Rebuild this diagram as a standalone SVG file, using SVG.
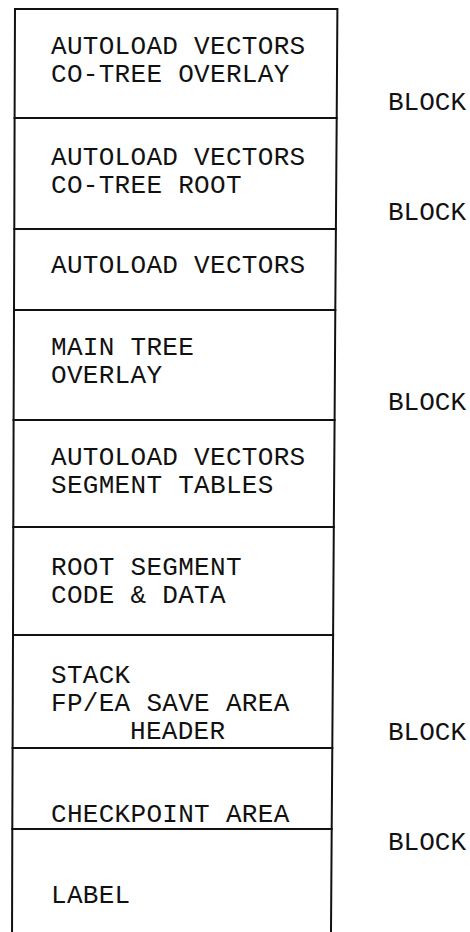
<svg xmlns="http://www.w3.org/2000/svg" width="470" height="932" viewBox="0 0 470 932">
<style>
.box{fill:none;stroke:#111;stroke-width:2;stroke-linejoin:miter}
text{font-family:"Liberation Mono","DejaVu Sans Mono",monospace;font-size:26px;fill:#111}
.t{letter-spacing:0.3px}
</style>
<rect width="470" height="932" fill="#fff"/>
<g id="n1"><polygon class="box" points="15,9 337.4,9 336.7,118 14.6,118"/>
<text class="t" x="51" y="54">AUTOLOAD VECTORS</text><text class="t" x="51" y="82">CO-TREE OVERLAY</text></g>
<g id="n2"><polygon class="box" points="14.6,118 336.7,118 335.9,229 14.3,229"/>
<text class="t" x="51" y="165">AUTOLOAD VECTORS</text><text class="t" x="51" y="193">CO-TREE ROOT</text></g>
<g id="n3"><polygon class="box" points="14.3,229 335.9,229 335.3,310 14,310"/>
<text class="t" x="51" y="273">AUTOLOAD VECTORS</text></g>
<g id="n4"><polygon class="box" points="14,310 335.3,310 334.6,420 13.6,420"/>
<text class="t" x="51" y="355">MAIN TREE</text><text class="t" x="51" y="383">OVERLAY</text></g>
<g id="n5"><polygon class="box" points="13.6,420 334.6,420 333.8,527 13.3,527"/>
<text class="t" x="51" y="465">AUTOLOAD VECTORS</text><text class="t" x="51" y="493">SEGMENT TABLES</text></g>
<g id="n6"><polygon class="box" points="13.3,527 333.8,527 333.1,635 13,635"/>
<text class="t" x="51" y="575">ROOT SEGMENT</text><text class="t" x="51" y="603">CODE &amp; DATA</text></g>
<g id="n7"><polygon class="box" points="13,635 333.1,635 332.3,748 12.6,748"/>
<text class="t" x="51" y="683">STACK</text><text class="t" x="51" y="711">FP/EA SAVE AREA</text><text class="t" x="130" y="739">HEADER</text></g>
<g id="n8"><polygon class="box" points="12.6,748 332.3,748 331.7,829 12.3,829"/>
<text class="t" x="51" y="822">CHECKPOINT AREA</text></g>
<g id="n9"><polygon class="box" points="12.3,829 331.7,829 330.9,945 12,945"/>
<text class="t" x="51" y="903">LABEL</text></g>
<g id="connectors"></g>
<g id="labels">
<text x="388" y="110">BLOCK</text>
<text x="388" y="220">BLOCK</text>
<text x="388" y="410">BLOCK</text>
<text x="388" y="740">BLOCK</text>
<text x="388" y="850">BLOCK</text>
</g>
</svg>
